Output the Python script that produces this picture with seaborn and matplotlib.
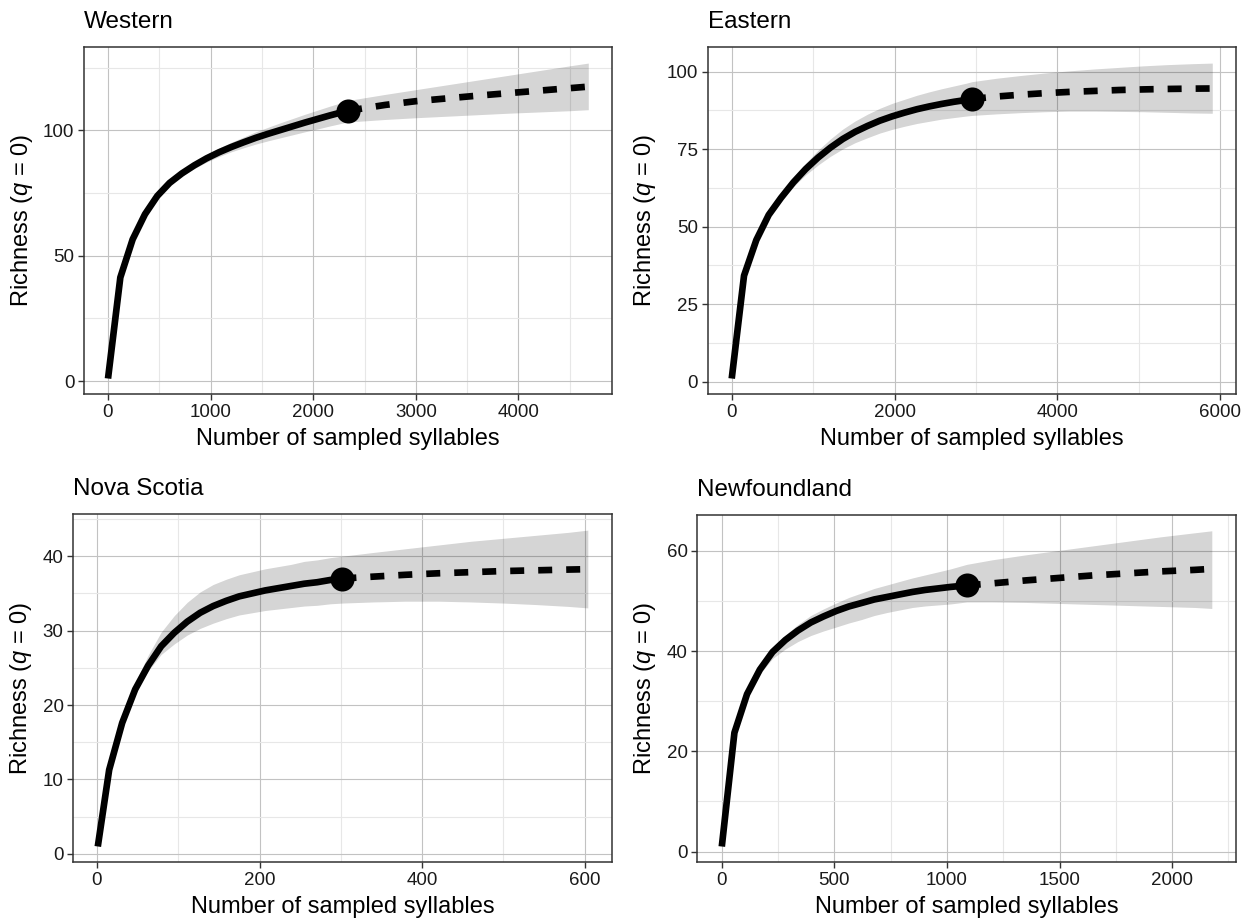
import numpy as np
import pandas as pd
import matplotlib
matplotlib.use("Agg")
import matplotlib.pyplot as plt
from matplotlib.ticker import MultipleLocator
import seaborn as sns

# ---------------- data ----------------
titles = ["Western", "Eastern", "Nova Scotia", "Newfoundland"]

west_m_rare = [1, 121, 241, 361, 481, 601, 721, 841, 961, 1081, 1201, 1321, 1441, 1561, 1681, 1801, 1921, 2041, 2161, 2281, 2340]
west_S_rare = [1.0, 41.3, 56.5, 66.5, 73.8, 79.0, 82.8, 86.0, 88.8, 91.2, 93.3, 95.2, 97.0, 98.6, 100.1, 101.6, 103.1, 104.5, 105.9, 107.2, 107.8]
west_lo_rare = [1.0, 41.2, 56.2, 66.0, 73.1, 78.1, 81.7, 84.7, 87.3, 89.5, 91.4, 93.0, 94.5, 95.8, 97.0, 98.2, 99.4, 100.5, 101.7, 102.8, 103.3]
west_hi_rare = [1.0, 41.4, 56.8, 67.0, 74.5, 79.9, 83.9, 87.3, 90.3, 92.9, 95.2, 97.3, 99.4, 101.2, 103.0, 104.7, 106.4, 108.0, 109.6, 111.1, 111.9]
west_m_ext = [2340, 2700, 3000, 3300, 3600, 3900, 4200, 4500, 4680]
west_S_ext = [107.8, 110.1, 111.6, 112.7, 113.8, 114.8, 115.8, 116.8, 117.4]
west_lo_ext = [103.3, 104.3, 105.0, 105.6, 106.2, 106.8, 107.3, 107.8, 108.2]
west_hi_ext = [111.9, 114.3, 116.2, 118.1, 120.0, 121.9, 123.8, 125.7, 126.8]

east_m_rare = [1, 152, 303, 455, 606, 758, 909, 1061, 1212, 1364, 1515, 1667, 1818, 1970, 2121, 2273, 2424, 2576, 2727, 2879, 2950]
east_S_rare = [1.0, 34.2, 45.7, 53.8, 59.3, 64.3, 68.6, 72.3, 75.5, 78.3, 80.6, 82.5, 84.2, 85.6, 86.8, 87.9, 88.8, 89.6, 90.3, 90.9, 91.2]
east_lo_rare = [1.0, 34.1, 45.5, 53.3, 58.4, 62.9, 66.7, 69.9, 72.7, 75.1, 77.1, 78.7, 80.2, 81.4, 82.4, 83.3, 84.0, 84.7, 85.2, 85.7, 85.9]
east_hi_rare = [1.0, 34.3, 45.9, 54.3, 60.2, 65.7, 70.5, 74.7, 78.3, 81.5, 84.1, 86.3, 88.2, 89.8, 91.1, 92.4, 93.5, 94.5, 95.4, 96.3, 96.8]
east_m_ext = [2950, 3250, 3550, 3850, 4150, 4450, 4750, 5050, 5350, 5650, 5900]
east_S_ext = [91.2, 92.0, 92.6, 93.1, 93.5, 93.8, 94.1, 94.3, 94.45, 94.55, 94.6]
east_lo_ext = [85.9, 86.4, 86.8, 87.1, 87.3, 87.3, 87.2, 87.1, 86.9, 86.7, 86.6]
east_hi_ext = [96.8, 97.9, 98.8, 99.6, 100.3, 100.9, 101.4, 101.9, 102.3, 102.6, 102.8]

ns_m_rare = [1, 15, 31, 47, 63, 79, 95, 111, 127, 143, 159, 175, 191, 207, 223, 239, 255, 271, 287, 302]
ns_S_rare = [1.0, 11.3, 17.6, 22.1, 25.3, 27.9, 29.7, 31.2, 32.4, 33.3, 34.0, 34.6, 35.0, 35.4, 35.7, 36.0, 36.3, 36.5, 36.8, 37.0]
ns_lo_rare = [1.0, 11.2, 17.4, 21.7, 24.6, 26.8, 28.2, 29.4, 30.3, 31.0, 31.6, 32.1, 32.4, 32.7, 32.9, 33.1, 33.3, 33.4, 33.6, 33.7]
ns_hi_rare = [1.0, 11.5, 18.1, 23.0, 26.7, 29.8, 32.0, 33.8, 35.2, 36.2, 36.9, 37.5, 37.9, 38.3, 38.6, 38.9, 39.3, 39.5, 39.8, 40.0]
ns_m_ext = [302, 340, 380, 420, 460, 500, 540, 580, 604]
ns_S_ext = [37.0, 37.25, 37.5, 37.7, 37.85, 38.0, 38.1, 38.2, 38.25]
ns_lo_ext = [33.7, 33.85, 33.95, 33.95, 33.85, 33.7, 33.5, 33.25, 33.05]
ns_hi_ext = [40.0, 40.5, 41.0, 41.5, 42.0, 42.4, 42.8, 43.2, 43.5]

nf_m_rare = [1, 57, 113, 170, 226, 283, 339, 396, 452, 509, 565, 622, 678, 735, 791, 848, 904, 961, 1017, 1088]
nf_S_rare = [1.0, 23.7, 31.4, 36.3, 39.8, 42.2, 44.1, 45.7, 46.9, 48.0, 48.9, 49.6, 50.3, 50.8, 51.3, 51.8, 52.2, 52.5, 52.8, 53.1]
nf_lo_rare = [1.0, 23.5, 30.9, 35.4, 38.5, 40.4, 41.9, 43.1, 44.0, 44.8, 45.6, 46.3, 47.1, 47.7, 48.2, 48.7, 49.0, 49.2, 49.4, 49.8]
nf_hi_rare = [1.0, 23.8, 31.7, 36.8, 40.6, 43.2, 45.3, 47.1, 48.4, 49.6, 50.7, 51.6, 52.5, 53.2, 53.9, 54.6, 55.2, 55.8, 56.4, 57.3]
nf_m_ext = [1088, 1200, 1350, 1500, 1650, 1800, 1950, 2100, 2176]
nf_S_ext = [53.1, 53.5, 54.1, 54.6, 55.1, 55.5, 55.9, 56.2, 56.4]
nf_lo_ext = [49.8, 49.8, 49.7, 49.5, 49.3, 49.1, 48.9, 48.7, 48.5]
nf_hi_ext = [57.3, 58.2, 59.2, 60.1, 61.0, 61.9, 62.8, 63.6, 64.0]

x_major = [1000, 2000, 200, 500]
y_major = [50, 25, 10, 20]

x_label = "Number of sampled syllables"
y_label = r"Richness ($q$ = 0)"

panels = [
    (west_m_rare, west_S_rare, west_lo_rare, west_hi_rare, west_m_ext, west_S_ext, west_lo_ext, west_hi_ext),
    (east_m_rare, east_S_rare, east_lo_rare, east_hi_rare, east_m_ext, east_S_ext, east_lo_ext, east_hi_ext),
    (ns_m_rare, ns_S_rare, ns_lo_rare, ns_hi_rare, ns_m_ext, ns_S_ext, ns_lo_ext, ns_hi_ext),
    (nf_m_rare, nf_S_rare, nf_lo_rare, nf_hi_rare, nf_m_ext, nf_S_ext, nf_lo_ext, nf_hi_ext),
]

# ---------------- style ----------------
sns.set_theme(style="white")
plt.rcParams["font.family"] = ["Liberation Sans", "DejaVu Sans"]
plt.rcParams["mathtext.fontset"] = "custom"
plt.rcParams["mathtext.rm"] = "Liberation Sans"
plt.rcParams["mathtext.it"] = "Liberation Sans:italic"

W, H = 1255, 921
fig = plt.figure(figsize=(W / 100, H / 100), dpi=100)
fig.patch.set_facecolor("white")

# axes rectangles in pixels: left, top, right, bottom
rects_px = [
    (84.0, 47.3, 612.3, 394.3),
    (707.7, 47.3, 1236.3, 394.3),
    (73.3, 514.3, 612.3, 862.3),
    (697.3, 515.0, 1236.3, 862.3),
]

LW = 4.8
for i, (title, data, (l, t, r, b)) in enumerate(zip(titles, panels, rects_px)):
    ax = fig.add_axes([l / W, 1 - b / H, (r - l) / W, (b - t) / H])
    m_r, S_r, lo_r, hi_r, m_e, S_e, lo_e, hi_e = data

    df_r = pd.DataFrame({"m": m_r, "S": S_r, "lo": lo_r, "hi": hi_r})
    df_e = pd.DataFrame({"m": m_e, "S": S_e, "lo": lo_e, "hi": hi_e})
    df_all = pd.concat([df_r, df_e.iloc[1:]], ignore_index=True)

    ax.fill_between(df_all["m"], df_all["lo"], df_all["hi"], color="black",
                    alpha=0.165, linewidth=0, zorder=2)
    sns.lineplot(data=df_r, x="m", y="S", ax=ax, color="black", linewidth=LW,
                 sort=False, errorbar=None, zorder=3)
    ax.lines[-1].set_solid_capstyle("butt")
    ax.lines[-1].set_solid_joinstyle("round")
    sns.lineplot(data=df_e, x="m", y="S", ax=ax, color="black", linewidth=LW,
                 sort=False, errorbar=None, zorder=3)
    ax.lines[-1].set_dashes([2.1, 2.1])
    ax.lines[-1].set_dash_capstyle("butt")
    sns.scatterplot(x=[m_r[-1]], y=[S_r[-1]], ax=ax, color="black", s=300,
                    linewidth=0, zorder=4)

    # ggplot-style 5% expansion
    xmin, xmax = df_all["m"].min(), df_all["m"].max()
    ymin = min(df_all["lo"].min(), df_all["S"].min())
    ymax = max(df_all["hi"].max(), df_all["S"].max())
    dx, dy = (xmax - xmin) * 0.05, (ymax - ymin) * 0.05
    ax.set_xlim(xmin - dx, xmax + dx)
    ax.set_ylim(ymin - dy, ymax + dy)

    ax.xaxis.set_major_locator(MultipleLocator(x_major[i]))
    ax.xaxis.set_minor_locator(MultipleLocator(x_major[i] / 2))
    ax.yaxis.set_major_locator(MultipleLocator(y_major[i]))
    ax.yaxis.set_minor_locator(MultipleLocator(y_major[i] / 2))
    ax.grid(True, which="major", color="#c2c2c2", linewidth=0.8, zorder=0)
    ax.grid(True, which="minor", color="#e7e7e7", linewidth=0.8, zorder=0)
    ax.set_axisbelow(True)

    for sp in ax.spines.values():
        sp.set_color("#333333")
        sp.set_linewidth(1.1)
    ax.tick_params(which="major", direction="out", length=4, width=1.0,
                   color="#333333", labelsize=13.5, labelcolor="#1a1a1a", pad=3,
                   bottom=True, left=True)
    ax.tick_params(which="minor", length=0)

    ax.set_xlabel(x_label, fontsize=17, color="black", labelpad=5)
    ax.set_ylabel(y_label, fontsize=17, color="black", labelpad=6)
    ax.set_title(title, loc="left", fontsize=17.5, color="black", pad=14)

fig.savefig("out.png", dpi=100, facecolor="white")
